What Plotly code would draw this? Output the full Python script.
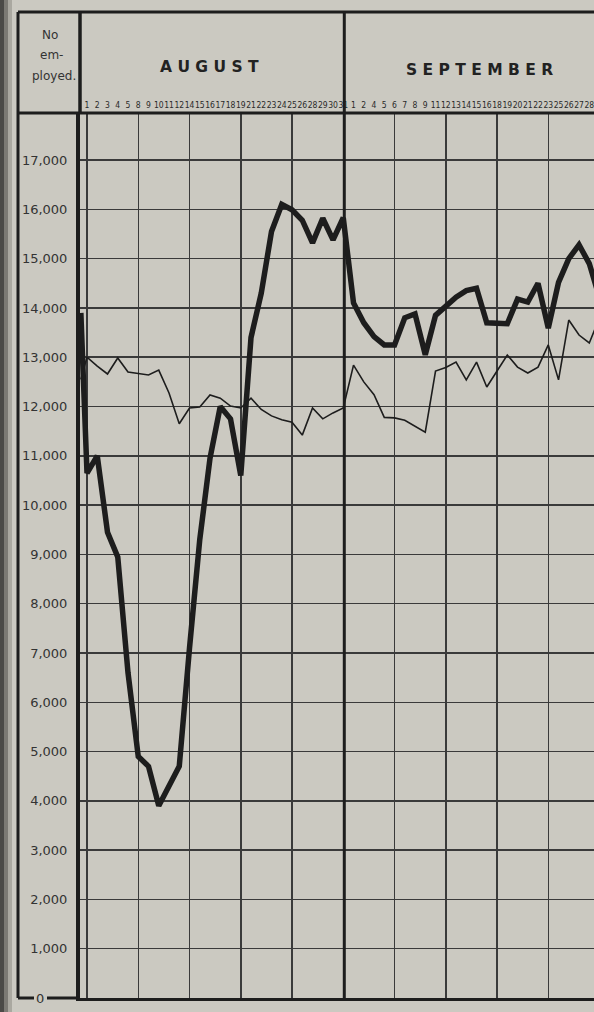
import plotly.graph_objects as go

# ---------------- data ----------------
aug_days = [1, 2, 3, 4, 5, 8, 9, 10, 11, 12, 14, 15, 16, 17, 18, 19, 21, 22, 23, 24, 25, 26, 28, 29, 30, 31]
sep_days = [1, 2, 4, 5, 6, 7, 8, 9, 11, 12, 13, 14, 15, 16, 18, 19, 20, 21, 22, 23, 25, 26, 27, 28, 29]

# value at the chart's left edge (opening figure) for each series
thick_open = 13900
thin_open = 12550

# heavy line (August then September, one value per working day)
thick_aug = [10650, 11000, 9450, 8950, 6600, 4900, 4700, 3900, 4300, 4700,
             7100, 9300, 10950, 12000, 11750, 10600, 13400, 14300, 15550, 16100,
             15990, 15780, 15320, 15820, 15380, 15830]
thick_sep = [14100, 13700, 13420, 13250, 13250, 13800, 13880, 13050, 13850, 14050,
             14220, 14350, 14400, 13700, 13690, 13680, 14180, 14120, 14500, 13590,
             14520, 15000, 15280, 14900, 14200]

# light line
thin_aug = [13000, 12820, 12660, 12985, 12700, 12670, 12640, 12740, 12275, 11650,
            11970, 11990, 12235, 12170, 12010, 11970, 12170, 11940, 11810, 11730,
            11680, 11420, 11970, 11750, 11870, 11970]
thin_sep = [12840, 12500, 12240, 11780, 11770, 11720, 11600, 11480, 12720, 12790,
            12900, 12540, 12900, 12395, 12720, 13045, 12800, 12680, 12800, 13250,
            12540, 13755, 13450, 13290, 13800]

y_ticks = list(range(1000, 18000, 1000))

# ---------------- derived ----------------
day_labels = [str(d) for d in aug_days + sep_days]
n_days = len(day_labels)
positions = list(range(n_days))
START_X = -0.6
xs = [START_X] + positions
thick = [thick_open] + thick_aug + thick_sep
thin = [thin_open] + thin_aug + thin_sep

PAPER = "rgb(203,201,193)"
INK = "#1d1d1d"
GRID = "#3a3a3a"
TXT = "#333333"

W, H = 594, 1012
ML, MR, MT, MB = 80, 0, 113, 14
PW, PH = W - ML - MR, H - MT - MB


def px(xp):
    return (xp - ML) / PW


def py(yp):
    return (H - MB - yp) / PH


fig = go.Figure()
fig.add_trace(go.Scatter(x=xs, y=thick, mode="lines", xaxis="x", yaxis="y",
                         line=dict(color=INK, width=5.5), hoverinfo="skip",
                         showlegend=False))
fig.add_trace(go.Scatter(x=xs, y=thin, mode="lines", xaxis="x2", yaxis="y",
                         line=dict(color=INK, width=1.6), hoverinfo="skip",
                         showlegend=False))

top = py(12)
left = px(18)
shapes = [
    # binding shadow on the far left
    dict(type="rect", xref="paper", yref="paper", x0=px(0), x1=px(4), y0=-0.03, y1=1.2,
         fillcolor="#4b4a47", line=dict(width=0), layer="above"),
    dict(type="rect", xref="paper", yref="paper", x0=px(4), x1=px(8), y0=-0.03, y1=1.2,
         fillcolor="#7c7a74", line=dict(width=0), layer="above"),
    dict(type="rect", xref="paper", yref="paper", x0=px(8), x1=px(12), y0=-0.03, y1=1.2,
         fillcolor="#aaa8a0", line=dict(width=0), layer="above"),
    # frame
    dict(type="line", xref="paper", yref="paper", x0=left, x1=1.0, y0=top, y1=top,
         line=dict(color=INK, width=3)),
    dict(type="line", xref="paper", yref="paper", x0=left, x1=left, y0=0, y1=top,
         line=dict(color=INK, width=3)),
    dict(type="line", xref="paper", yref="paper", x0=left, x1=1.0, y0=1.0, y1=1.0,
         line=dict(color=INK, width=3)),
    dict(type="line", xref="paper", yref="paper", x0=0, x1=0, y0=1.0, y1=top,
         line=dict(color=INK, width=3.5)),
    # month divider
    dict(type="line", xref="x", yref="paper", x0=25.1, x1=25.1, y0=0, y1=top,
         line=dict(color=INK, width=3)),
    # bottom border, broken by the "0"
    dict(type="line", xref="paper", yref="paper", x0=left, x1=px(34), y0=0, y1=0,
         line=dict(color=INK, width=3)),
    dict(type="line", xref="paper", yref="paper", x0=px(47), x1=0, y0=0, y1=0,
         line=dict(color=INK, width=3)),
]

hdr_font = dict(family="DejaVu Sans", size=12, color=TXT)
month_font = dict(family="DejaVu Sans", size=15.5, color="#222222")


def note(text, x, y, font, yref="paper"):
    return dict(text=text, x=x, y=y, xref="paper", yref=yref, showarrow=False,
                xanchor="center", yanchor="middle", font=font)


annotations = [
    note("No", px(50), py(35), hdr_font),
    note("em-", px(51), py(55), hdr_font),
    note("ployed.", px(54), py(76), hdr_font),
    note("<b>A U G U S T</b>", px(209), py(67), month_font),
    note("<b>S E P T E M B E R</b>", px(479), py(70), month_font),
    note("0", px(40), 0, dict(family="DejaVu Sans", size=13, color=TXT), yref="y"),
]

fig.update_layout(
    width=W, height=H,
    margin=dict(l=ML, r=MR, t=MT, b=MB, pad=0, autoexpand=False),
    paper_bgcolor=PAPER, plot_bgcolor=PAPER,
    showlegend=False,
    xaxis=dict(range=[-0.683, 49.46], tickmode="linear", tick0=0, dtick=5,
               showgrid=True, gridcolor=GRID, gridwidth=1.5, automargin=False,
               showticklabels=False, ticks="", zeroline=False,
               showline=True, linecolor=INK, linewidth=3),
    xaxis2=dict(overlaying="x", matches="x", side="top", tickmode="array",
                tickvals=positions, ticktext=day_labels, tickangle=0, automargin=False,
                tickfont=dict(family="Liberation Sans Narrow, DejaVu Sans Condensed", size=8.5, color="#2a2a2a"),
                showgrid=False, ticks="", zeroline=False, showline=False,
                ticklabelstandoff=2, ticklabeloverflow="allow"),
    yaxis=dict(range=[0, 17955], tickmode="array", tickvals=y_ticks, tickformat=",d",
               showgrid=True, gridcolor=GRID, gridwidth=1.5, automargin=False,
               showline=True, linecolor=INK, linewidth=4, ticks="", zeroline=False,
               ticklabelstandoff=6,
               tickfont=dict(family="DejaVu Sans", size=13, color=TXT)),
    shapes=shapes,
    annotations=annotations,
)

fig.write_html("out.html",
               config={"displayModeBar": False, "staticPlot": True},
               post_script="document.body.style.margin='0';document.body.style.overflow='hidden';")
